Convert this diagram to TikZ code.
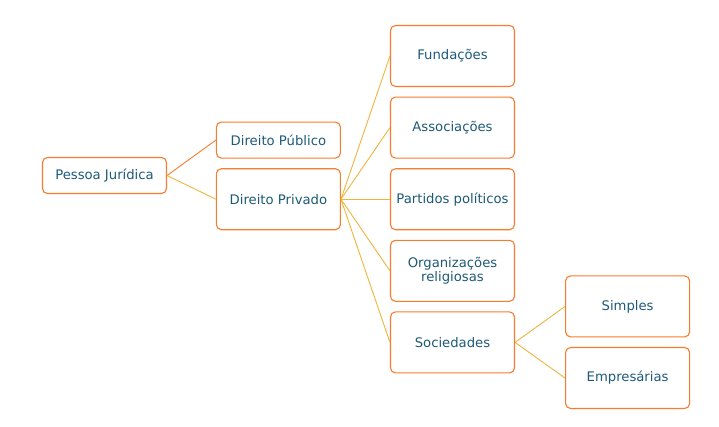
\documentclass[tikz,border=0pt]{standalone}
\usepackage{fontspec}
\setmainfont{DejaVu Sans}
\usepackage{xcolor}
\usetikzlibrary{positioning}

\definecolor{boxline}{HTML}{F97B2C}
\definecolor{txtblue}{HTML}{1E5A78}
\definecolor{linkgold}{HTML}{EFB43A}

\begin{document}
\begin{tikzpicture}[
  x=1pt, y=-1pt,
  font=\fontsize{13.2}{14.5}\selectfont,
  node distance=9.5pt and 49pt,
  card/.style={draw=boxline, line width=1.1pt, rounded corners=5pt, fill=white,
               text=txtblue, align=center, minimum width=124pt, minimum height=61pt},
  flat/.style={card, minimum height=36pt},
  link/.style={draw=linkgold, line width=0.9pt},
  hotlink/.style={draw=boxline, line width=0.9pt}
]
\useasboundingbox (0,0) rectangle (719,426);
% third column
\node[card]                    (fund) at (452.5,56) {Fundações};
\node[card, below=of fund]     (assoc) {Associações};
\node[card, below=of assoc]    (part) {Partidos políticos};
\node[card, below=of part]     (relig) {Organizações\\religiosas};
\node[card, below=of relig]    (soc) {Sociedades};
% second column
\node[card, left=of part]      (priv) {Direito Privado};
\node[flat, above=of priv]     (pub) {Direito Público};
\node[flat]                    (pj) at (104.5,175.5) {Pessoa Jurídica};
% last column
\node[card, right=50pt of soc, yshift=36pt] (simp) {Simples};
\node[card, below=of simp]     (emp) {Empresárias};
% links
\draw[hotlink] (pj.east) -- (pub.west);
\draw[link] (pj.east) -- (priv.west);
\foreach \n in {fund,assoc,part,relig,soc}
  \draw[link] (priv.east) -- (\n.west);
\draw[link] (soc.east) -- (simp.west);
\draw[link] (soc.east) -- (emp.west);
\end{tikzpicture}
\end{document}
